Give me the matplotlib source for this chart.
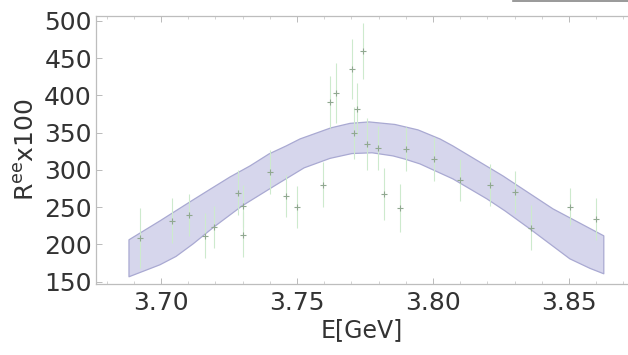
import numpy as np
import matplotlib
matplotlib.use('Agg')
import matplotlib.pyplot as plt
from matplotlib.ticker import MultipleLocator

# data points
energy = [3.6923, 3.7040, 3.7103, 3.7162, 3.7195, 3.7283, 3.7301, 3.7301,
          3.7401, 3.7460, 3.7500, 3.7596, 3.7621, 3.7643, 3.7702, 3.7743,
          3.7721, 3.7710, 3.7757, 3.7798, 3.7901, 3.7820, 3.7879, 3.8004,
          3.8099, 3.8209, 3.8301, 3.8360, 3.8503, 3.8599]
ratio = [209.0, 231.7, 239.8, 211.6, 223.7, 269.3, 251.8, 213.0,
         297.4, 265.2, 250.5, 280.0, 391.2, 403.3, 435.4, 459.5,
         381.8, 349.7, 334.9, 329.6, 328.2, 267.9, 249.2, 314.8,
         286.7, 280.0, 270.6, 222.4, 250.5, 234.4]
ratio_err = [40, 30, 28, 30, 28, 30, 28, 30,
             30, 28, 28, 30, 35, 40, 40, 38,
             35, 35, 35, 30, 30, 35, 32, 30,
             28, 28, 28, 30, 25, 28]

# fit band edges
band_up_e = [3.6882, 3.6996, 3.7118, 3.7180, 3.7254, 3.7327, 3.7397, 3.7460,
             3.7511, 3.7625, 3.7695, 3.7765, 3.7860, 3.7945, 3.8026, 3.8073,
             3.8257, 3.8441, 3.8628]
band_up = [206.3, 231.7, 259.9, 274.0, 290.7, 305.4, 321.5, 332.2,
           341.6, 356.5, 362.5, 364.4, 361.0, 353.7, 341.5, 332.2,
           292.0, 247.8, 211.6]
band_lo_e = [3.6882, 3.6996, 3.7055, 3.7118, 3.7195, 3.7298, 3.7423, 3.7526,
             3.7621, 3.7702, 3.7776, 3.7853, 3.7897, 3.7952, 3.8073, 3.8198,
             3.8265, 3.8356, 3.8503, 3.8577, 3.8628]
band_lo = [156.7, 172.8, 184.0, 200.9, 223.7, 251.8, 280.0, 302.8,
           315.5, 322.0, 323.0, 318.8, 314.5, 308.1, 288.0, 261.2,
           245.0, 221.0, 180.8, 168.0, 160.7]

plt.rcParams['font.family'] = ['DejaVu Sans']

fig = plt.figure(figsize=(6.28, 3.55), dpi=100)
ax = fig.add_axes([0.153, 0.2, 0.847, 0.756])

poly_x = band_up_e + band_lo_e[::-1]
poly_y = band_up + band_lo[::-1]
ax.fill(poly_x, poly_y, facecolor='#d6d6ec', edgecolor='#a9a9d2', linewidth=0.9,
        joinstyle='round', zorder=1)

ax.errorbar(energy, ratio, yerr=ratio_err, fmt='+', color='#90a890', ms=4, mew=0.8,
            ecolor='#cdeacd', elinewidth=0.8, capsize=0, zorder=2)

ax.set_xlim(3.6761, 3.8717)
ax.set_ylim(147, 507)
ax.set_xticks([3.70, 3.75, 3.80, 3.85])
ax.set_xticklabels(['3.70', '3.75', '3.80', '3.85'])
ax.set_yticks([150, 200, 250, 300, 350, 400, 450, 500])
ax.xaxis.set_minor_locator(MultipleLocator(0.01))
ax.tick_params(axis='both', which='major', direction='in', length=4, width=0.6,
               color='#b0b0b0', labelsize=18, labelcolor='#333333')
ax.tick_params(axis='x', which='major', pad=5, top=True)
ax.tick_params(axis='y', which='major', pad=3)
ax.tick_params(axis='x', which='minor', direction='in', length=2, width=0.5,
               color='#c0c0c0', top=True)

for side in ['left', 'bottom', 'top']:
    ax.spines[side].set_color('#bdbdbd')
    ax.spines[side].set_linewidth(0.9)
ax.spines['right'].set_visible(False)

ax.set_xlabel('E[GeV]', fontsize=17, color='#333333', labelpad=2)
ax.set_ylabel(r'R$^{\rm ee}$x100', fontsize=18, color='#333333', labelpad=4)

# cut-off legend frame at the top right
fig.add_artist(plt.Line2D([0.817, 1.0], [0.996, 0.996], color='#888888', linewidth=1.2))

fig.savefig('out.png', dpi=100)
